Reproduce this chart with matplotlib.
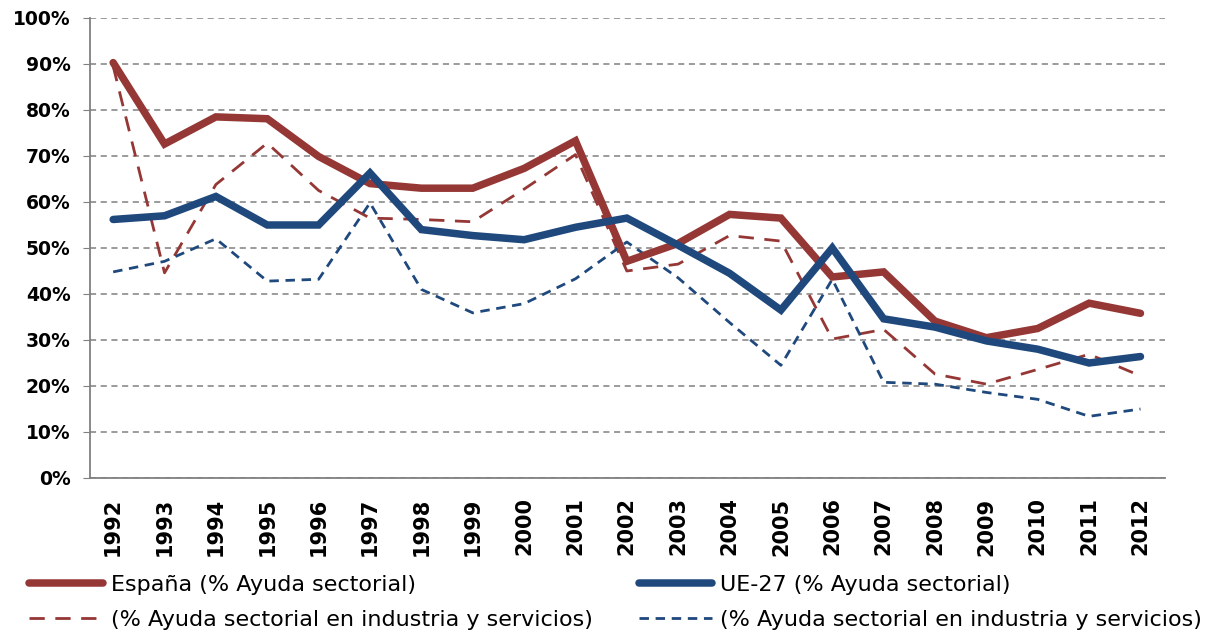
import matplotlib
matplotlib.use("Agg")
import matplotlib.pyplot as plt
from matplotlib.ticker import PercentFormatter

years = [str(y) for y in range(1992, 2013)]

# % Ayuda sectorial
espana = [90.3, 72.6, 78.5, 78.1, 69.9, 64.0, 63.0, 63.0, 67.3, 73.3, 47.1, 51.0,
          57.3, 56.5, 43.7, 44.8, 34.1, 30.5, 32.5, 38.0, 35.8]
ue27 = [56.2, 57.0, 61.2, 55.0, 55.0, 66.3, 54.0, 52.7, 51.8, 54.5, 56.5, 50.6,
        44.5, 36.5, 50.0, 34.6, 32.8, 29.8, 28.0, 25.0, 26.4]
# % Ayuda sectorial en industria y servicios
espana_is = [89.5, 44.6, 63.8, 72.8, 62.5, 56.5, 56.2, 55.7, 62.8, 70.3, 45.0, 46.5,
             52.7, 51.5, 30.2, 32.3, 22.6, 20.4, 23.6, 26.9, 22.2]
ue27_is = [44.8, 47.1, 52.0, 42.8, 43.2, 59.8, 41.0, 35.9, 37.9, 43.3, 51.3, 43.5,
           33.8, 24.5, 43.2, 20.8, 20.4, 18.6, 17.1, 13.4, 15.0]

rojo = "#953735"
azul = "#1F497D"

fig = plt.figure(figsize=(12.12, 6.38), dpi=100)
ax = fig.add_axes([0.0743, 0.2508, 0.8866, 0.7210])

x = list(range(len(years)))
l1, = ax.plot(x, espana, color=rojo, lw=5.4, solid_capstyle="round", solid_joinstyle="miter",
              label="España (% Ayuda sectorial)", zorder=4)
l2, = ax.plot(x, ue27, color=azul, lw=5.4, solid_capstyle="round", solid_joinstyle="miter",
              label="UE-27 (% Ayuda sectorial)", zorder=5)
l3, = ax.plot(x, espana_is, color=rojo, lw=2.0, dashes=(5.5, 3.8),
              label="(% Ayuda sectorial en industria y servicios)", zorder=3)
l4, = ax.plot(x, ue27_is, color=azul, lw=2.0, dashes=(3.4, 2.4),
              label="(% Ayuda sectorial en industria y servicios)", zorder=3)

ax.set_ylim(0, 100)
ax.set_xlim(-0.45, 20.47)
ax.set_yticks(range(0, 101, 10))
ax.yaxis.set_major_formatter(PercentFormatter(decimals=0))
ax.set_xticks(x)
ax.set_xticklabels(years, rotation=90, fontweight="bold", fontsize=15)
for t in ax.get_yticklabels():
    t.set_fontweight("bold")
    t.set_fontsize(13.5)

ax.grid(axis="y", color="#808080", linestyle=(0, (4, 3)), lw=1.1)
ax.set_axisbelow(True)
for s in ["top", "right"]:
    ax.spines[s].set_visible(False)
ax.spines["left"].set_color("#808080")
ax.spines["bottom"].set_color("#808080")
ax.spines["left"].set_linewidth(1.3)
ax.spines["bottom"].set_linewidth(1.3)
ax.tick_params(axis="x", length=0, pad=14)
ax.tick_params(axis="y", length=5, color="#808080", pad=9)

leg_kw = dict(frameon=False, fontsize=16, handlelength=3.3, handletextpad=0.35,
              labelspacing=0.68, loc="upper left", borderaxespad=0)
fig.legend([l1, l3], [l1.get_label(), l3.get_label()],
           bbox_to_anchor=(0.017, 0.113), **leg_kw)
fig.legend([l2, l4], [l2.get_label(), l4.get_label()],
           bbox_to_anchor=(0.52, 0.113), **leg_kw)

plt.savefig("out.png", dpi=100)
